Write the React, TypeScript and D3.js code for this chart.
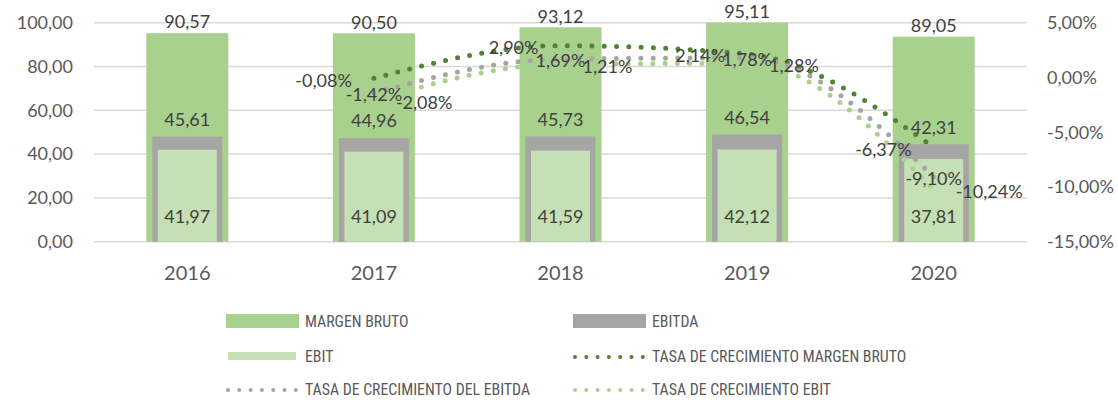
import React, { useEffect, useRef } from 'react';
import * as d3 from 'd3';

const years = ['2016', '2017', '2018', '2019', '2020'];
const margenBruto = [90.57, 90.5, 93.12, 95.11, 89.05];
const ebitda = [45.61, 44.96, 45.73, 46.54, 42.31];
const ebit = [41.97, 41.09, 41.59, 42.12, 37.81];
const tasaMargen: (number | null)[] = [null, -0.08, 2.9, 2.14, -6.37];
const tasaEbitda: (number | null)[] = [null, -1.42, 1.69, 1.78, -9.1];
const tasaEbit: (number | null)[] = [null, -2.08, 1.21, 1.28, -10.24];
const leftTicks = [0, 20, 40, 60, 80, 100];
const rightTicks = [5, 0, -5, -10, -15];

const C_MARGEN = '#A9D18E';
const C_EBITDA = '#A5A5A5';
const C_EBIT = '#C5E0B4';
const C_TASA_MARGEN = '#548235';
const C_TASA_EBITDA = '#A5A5A5';
const C_TASA_EBIT = '#A9D18E';

const locale = d3.formatLocale({ decimal: ',', thousands: '.', grouping: [3], currency: ['', ''], minus: '-' });
const fmt = locale.format('.2f');

const App: React.FC = () => {
    const svgRef = useRef<SVGSVGElement>(null);

    useEffect(() => {
        const svg = d3.select(svgRef.current);
        svg.selectAll('*').remove();

        const font = 'Lato, "Open Sans", sans-serif';
        const top = 22.7, bottom = 241.7;

        const x = d3.scaleBand().domain(years).range([94, 1027]);
        const cx = (d: string) => (x(d) || 0) + x.bandwidth() / 2;
        const yLeft = d3.scaleLinear().domain([0, 100]).range([bottom, top]);
        // margen / ebitda bars sit on their own (hidden) scale
        const yBar = d3.scaleLinear().domain([0, 95.1]).range([bottom, top]);
        const yRight = d3.scaleLinear().domain([-15, 5]).range([bottom, top]);

        // gridlines
        svg.append('g').selectAll('line').data(leftTicks).enter().append('line')
            .attr('x1', 94).attr('x2', 1027)
            .attr('y1', d => yLeft(d)).attr('y2', d => yLeft(d))
            .attr('stroke', '#D9D9D9').attr('stroke-width', 1.5);

        // axis labels
        svg.append('g').selectAll('text').data(leftTicks).enter().append('text')
            .attr('x', 73).attr('y', d => yLeft(d)).attr('dy', '0.35em')
            .attr('text-anchor', 'end').attr('font-family', font).attr('font-size', 18)
            .attr('fill', '#595959').text(d => fmt(d));

        svg.append('g').selectAll('text').data(rightTicks).enter().append('text')
            .attr('x', 1047).attr('y', d => yRight(d)).attr('dy', '0.35em')
            .attr('font-family', font).attr('font-size', 18)
            .attr('fill', '#595959').text(d => fmt(d) + '%');

        svg.append('g').selectAll('text').data(years).enter().append('text')
            .attr('x', d => cx(d)).attr('y', 273).attr('dy', '0.35em')
            .attr('text-anchor', 'middle').attr('font-family', font).attr('font-size', 20)
            .attr('fill', '#595959').text(d => d);

        // bars
        const bars = (vals: number[], scale: d3.ScaleLinear<number, number>, w: number, color: string) => {
            svg.append('g').selectAll('rect').data(years).enter().append('rect')
                .attr('x', d => cx(d) - w / 2).attr('width', w)
                .attr('y', (d, i) => scale(vals[i]))
                .attr('height', (d, i) => bottom - scale(vals[i]))
                .attr('fill', color);
        };
        bars(margenBruto, yBar, 82, C_MARGEN);
        bars(ebitda, yBar, 70, C_EBITDA);
        bars(ebit, yLeft, 59, C_EBIT);

        const label = (px: number, py: number, txt: string, anchor: string) => {
            svg.append('text').attr('x', px).attr('y', py).attr('dy', '0.35em')
                .attr('text-anchor', anchor).attr('font-family', font).attr('font-size', 18)
                .attr('fill', '#404040').text(txt);
        };

        // lines
        const series = [
            { vals: tasaMargen, color: C_TASA_MARGEN, pos: 'left' },
            { vals: tasaEbitda, color: C_TASA_EBITDA, pos: 'center' },
            { vals: tasaEbit, color: C_TASA_EBIT, pos: 'right' },
        ];
        const line = d3.line<[string, number | null]>()
            .defined(d => d[1] !== null)
            .x(d => cx(d[0]))
            .y(d => yRight(d[1] as number))
            .curve(d3.curveMonotoneX);

        series.forEach(s => {
            svg.append('path')
                .datum(years.map((y, i) => [y, s.vals[i]] as [string, number | null]))
                .attr('d', line)
                .attr('fill', 'none').attr('stroke', s.color).attr('stroke-width', 5)
                .attr('stroke-linecap', 'round').attr('stroke-dasharray', '0 12.3');
        });

        // bar labels
        years.forEach((y, i) => {
            label(cx(y), yBar(margenBruto[i]) - 11, fmt(margenBruto[i]), 'middle');
            label(cx(y), yBar(ebitda[i]) - 17, fmt(ebitda[i]), 'middle');
            label(cx(y), bottom - 25, fmt(ebit[i]), 'middle');
        });

        // line labels
        series.forEach(s => {
            years.forEach((y, i) => {
                const v = s.vals[i];
                if (v === null) return;
                const px = cx(y), py = yRight(v) + 2;
                const t = fmt(v) + '%';
                if (s.pos === 'left') label(px - 22, py, t, 'end');
                else if (s.pos === 'right') label(px + 22, py, t, 'start');
                else label(px, py, t, 'middle');
            });
        });

        // legend
        const lfont = '"Liberation Sans Narrow", "Roboto Condensed", "Liberation Sans", sans-serif';
        const legend = [
            { name: 'MARGEN BRUTO', color: C_MARGEN, kind: 'bar', h: 14, x: 226, y: 321 },
            { name: 'EBITDA', color: C_EBITDA, kind: 'bar', h: 14, x: 573, y: 321 },
            { name: 'EBIT', color: C_EBIT, kind: 'bar', h: 8, x: 228, y: 356 },
            { name: 'TASA DE CRECIMIENTO MARGEN BRUTO', color: C_TASA_MARGEN, kind: 'line', h: 0, x: 575, y: 356 },
            { name: 'TASA DE CRECIMIENTO DEL EBITDA', color: C_TASA_EBITDA, kind: 'line', h: 0, x: 228, y: 389 },
            { name: 'TASA DE CRECIMIENTO EBIT', color: C_TASA_EBIT, kind: 'line', h: 0, x: 575, y: 389 },
        ];
        legend.forEach(l => {
            const textX = l.x < 400 ? 305 : 652;
            if (l.kind === 'bar') {
                const w = l.h === 8 ? 68 : 73;
                svg.append('rect').attr('x', l.x).attr('y', l.y - l.h / 2)
                    .attr('width', w).attr('height', l.h).attr('fill', l.color);
            } else {
                svg.append('line').attr('x1', l.x).attr('x2', l.x + 68)
                    .attr('y1', l.y + 1).attr('y2', l.y + 1)
                    .attr('stroke', l.color).attr('stroke-width', 4)
                    .attr('stroke-linecap', 'round').attr('stroke-dasharray', '0 11.3');
            }
            svg.append('text').attr('x', textX).attr('y', l.y).attr('dy', '0.35em')
                .attr('font-family', lfont).attr('font-size', 15.8)
                .attr('fill', '#595959').text(l.name);
        });
    }, []);

    return (
        <svg ref={svgRef} width={1118} height={400}
            style={{ position: 'absolute', left: 0, top: 0, display: 'block', background: '#fff' }} />
    );
};

export default App;
